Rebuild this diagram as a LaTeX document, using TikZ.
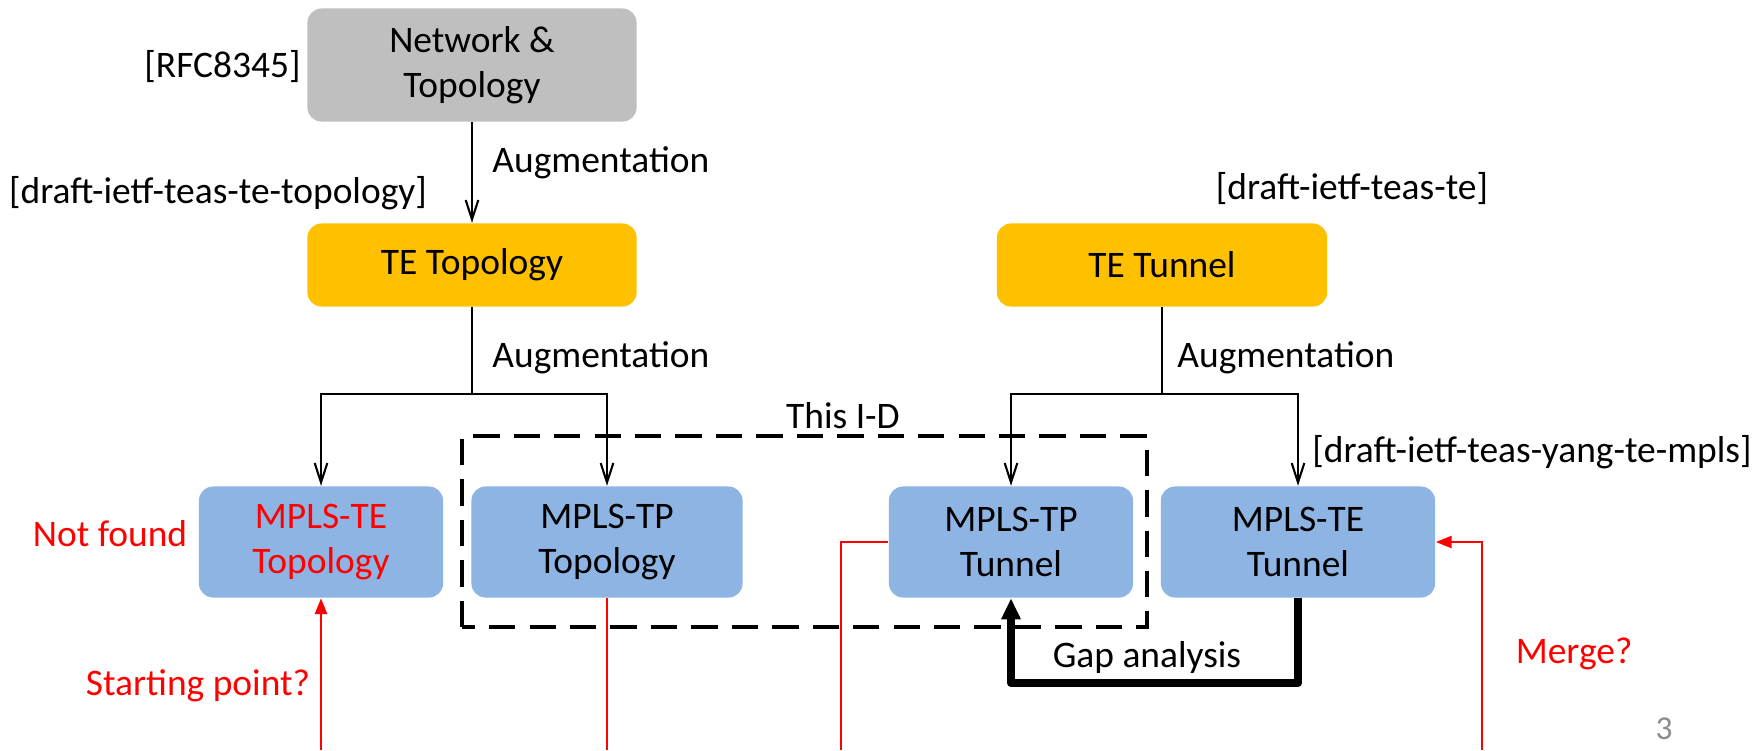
\documentclass[tikz,border=0pt]{standalone}
\usepackage{fontspec}
\setmainfont{Carlito}
\usepackage{tikz}
\usetikzlibrary{arrows.meta,calc,positioning}
\definecolor{netgray}{RGB}{191,191,191}
\definecolor{teorange}{RGB}{255,192,0}
\definecolor{mplsblue}{RGB}{142,180,227}
\definecolor{pagegray}{RGB}{140,140,140}

\tikzset{
  txt/.style={font=\fontsize{10.65}{12.8}\selectfont},
  model/.style={txt,rounded corners=4pt,align=center,inner sep=0pt},
  augline/.style={black,line width=0.6pt},
  redline/.style={red,line width=0.7pt},
  redarrow/.style={redline,-{Triangle[length=4.5pt,width=3.4pt]}},
  idbox/.style={black,line width=1pt,dash pattern=on 7.5pt off 4pt},
  gapline/.style={black,line width=2.3pt,line join=round,-{Triangle[length=6pt,width=5.2pt]}}
}

\begin{document}
\begin{tikzpicture}[x=0.01cm,y=0.01cm,>={Straight Barb[length=5.5pt,width=3.6pt]}]
\useasboundingbox (0,0) rectangle (1763,750);
% top of the tree: network model and its two augmentations
\node[model,fill=netgray,minimum width=3.29cm,minimum height=1.13cm] (net) at (472,685) {Network \&\\Topology};
\node[txt,anchor=east] (rfc) at (313,683) {[RFC8345]};
\node[model,fill=teorange,minimum width=3.29cm,minimum height=0.83cm] (tetopo) at (472,485) {TE Topology};
\node[model,fill=teorange,minimum width=3.30cm,minimum height=0.83cm] (tetun) at (1162,485) {TE Tunnel};
\node[txt] (drafttopo) at (218,557) {[draft-ietf-teas-te-topology]};
\node[txt] (draftte) at (1352,561) {[draft-ietf-teas-te]};
\draw[augline,->] (net) -- (tetopo);
\node[txt,anchor=west] (aug1) at (480,587) {Augmentation};
% MPLS row
\node[model,fill=mplsblue,text=red,minimum width=2.44cm,minimum height=1.11cm] (mteto) at (321,208) {MPLS-TE\\Topology};
\node[model,fill=mplsblue,minimum width=2.71cm,minimum height=1.11cm] (mtpto) at (607,208) {MPLS-TP\\Topology};
\node[model,fill=mplsblue,minimum width=2.44cm,minimum height=1.11cm] (mtptu) at (1011,208) {MPLS-TP\\Tunnel};
\node[model,fill=mplsblue,minimum width=2.74cm,minimum height=1.11cm] (mtetu) at (1298,208) {MPLS-TE\\Tunnel};
\node[txt] (draftmpls) at (1532,298) {[draft-ietf-teas-yang-te-mpls]};
% augmentation splits
\coordinate (splitA) at (472,356);
\coordinate (splitB) at (1162,356);
\draw[augline] (tetopo) -- (splitA);
\draw[augline,->] (splitA) -| (mteto.north);
\draw[augline,->] (splitA) -| (mtpto.north);
\node[txt,anchor=west] (aug2) at (480,392) {Augmentation};
\draw[augline] (tetun) -- (splitB);
\draw[augline,->] (splitB) -| (mtptu.north);
\draw[augline,->] (splitB) -| (mtetu.north);
\node[txt,anchor=west] (aug3) at (1165,392) {Augmentation};
% scope of this draft
\draw[idbox] (462,123) rectangle (1147,314);
\node[txt] (thisid) at (843,334) {This I-D};
% gap analysis
\coordinate (gapbase) at (0,67);
\draw[gapline] (mtetu.south) -- (mtetu.south |- gapbase) -| (mtptu.south);
\node[txt] (gap) at (1147,92) {Gap analysis};
% red notes
\coordinate (bottom) at (0,0);
\coordinate (tpfree) at (841,0);
\coordinate (mergefree) at (1482,0);
\draw[redarrow] (mteto.south |- bottom) -- (mteto.south);
\draw[redline] (mtpto.south) -- (mtpto.south |- bottom);
\draw[redline] (mtptu.west) -| (tpfree);
\draw[redarrow] (mergefree) |- (mtetu.east);
\node[txt,text=red] (notfound) at (110,216) {Not found};
\node[txt,text=red] (start) at (198,64) {Starting point?};
\node[txt,text=red] (merge) at (1574,96) {Merge?};
\node[txt,text=pagegray,font=\fontsize{9.5}{11}\selectfont] (pagenum) at (1664,21) {3};
\end{tikzpicture}
\end{document}
